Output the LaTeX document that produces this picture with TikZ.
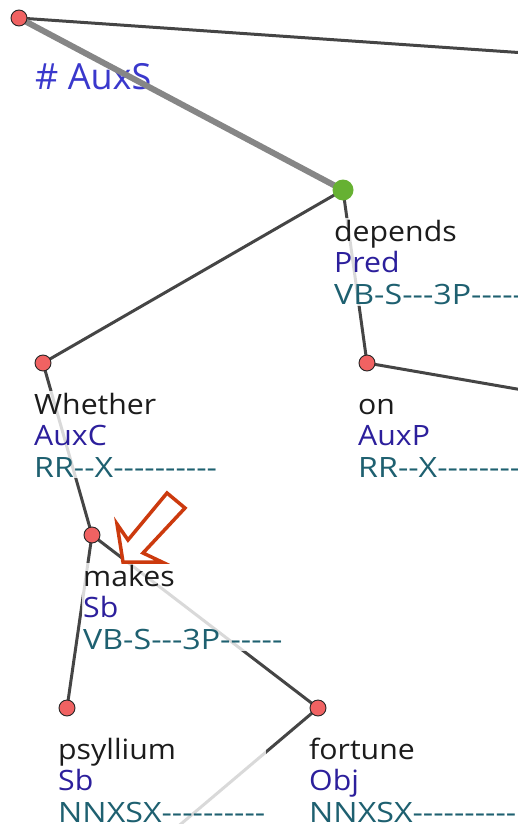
\documentclass[tikz,border=0pt]{standalone}
\usepackage{fontspec}
\setmainfont{Open Sans}[Ligatures=TeXOff, FakeStretch=1.08]
\newfontfamily\tagfont{Open Sans}[Ligatures=TeXOff, FakeStretch=1.15]
\newfontfamily\rootfont{Open Sans}
\usetikzlibrary{positioning}
\definecolor{dotred}{HTML}{F06262}
\definecolor{dotgreen}{HTML}{66B132}
\definecolor{edgegray}{HTML}{454545}
\definecolor{wordblack}{HTML}{1C1C1C}
\definecolor{funcblue}{HTML}{2C1F9C}
\definecolor{tagteal}{HTML}{1E6070}
\definecolor{rootblue}{HTML}{3A38CC}
\definecolor{markred}{HTML}{CC3A0E}

\begin{document}
\begin{tikzpicture}[
    x=1pt, y=-1pt,
    node distance=28pt and -10pt,
    dot/.style={circle, draw=black!85, fill=dotred, line width=0.9pt, minimum size=16pt, inner sep=0pt},
    headdot/.style={circle, fill=dotgreen, minimum size=21pt, inner sep=0pt},
    treeedge/.style={draw=edgegray, line width=3pt},
    rootedge/.style={draw=gray!95, line width=6pt},
    tokinfo/.style={anchor=north west, align=left, inner sep=1pt, fill=white, fill opacity=0.8, text opacity=1, font=\fontsize{28}{31.5}\selectfont}
]
\useasboundingbox (0,0) rectangle (517,824);

% tree nodes
\coordinate (root) at (19,18);
\coordinate (depends) at (343,190);
\coordinate (whether) at (43,363);
\coordinate (on) at (367,363);
\coordinate (makes) at (92,535);
\coordinate (psyllium) at (67,708);
\coordinate (fortune) at (318,708);
% children outside the view
\coordinate (rootnext) at (540,54);
\coordinate (onnext) at (540,393);
\coordinate (fortunenext) at (162,840);

\node[font=\rootfont\fontsize{36}{40}\selectfont, text=rootblue, anchor=base west, inner sep=0pt] (root-info) at (35,90) {\# AuxS};

% edges
\draw[treeedge] (root) -- (rootnext);
\draw[rootedge] (root) -- (depends);
\draw[treeedge] (depends) -- (whether);
\draw[treeedge] (depends) -- (on);
\draw[treeedge] (on) -- (onnext);
\draw[treeedge] (whether) -- (makes);
\draw[treeedge] (makes) -- (psyllium);
\draw[treeedge] (makes) -- (fortune);
\draw[treeedge] (fortune) -- (fortunenext);

% token texts
\node[tokinfo, below right=of depends] (depends-info) {\strut\textcolor{wordblack}{depends}\\\textcolor{funcblue}{Pred}\\\textcolor{tagteal}{\tagfont VB-S---3P------}};
\node[tokinfo, below right=of whether] (whether-info) {\strut\textcolor{wordblack}{Whether}\\\textcolor{funcblue}{AuxC}\\\textcolor{tagteal}{\tagfont RR--X----------}};
\node[tokinfo, below right=of on] (on-info) {\strut\textcolor{wordblack}{on}\\\textcolor{funcblue}{AuxP}\\\textcolor{tagteal}{\tagfont RR--X----------}};
\node[tokinfo, below right=of makes] (makes-info) {\strut\textcolor{wordblack}{makes}\\\textcolor{funcblue}{Sb}\\\textcolor{tagteal}{\tagfont VB-S---3P------}};
\node[tokinfo, below right=of psyllium] (psyllium-info) {\strut\textcolor{wordblack}{psyllium}\\\textcolor{funcblue}{Sb}\\\textcolor{tagteal}{\tagfont NNXSX----------}};
\node[tokinfo, below right=of fortune] (fortune-info) {\strut\textcolor{wordblack}{fortune}\\\textcolor{funcblue}{Obj}\\\textcolor{tagteal}{\tagfont NNXSX----------}};

% dots
\node[dot] (root-dot) at (root) {};
\node[headdot] (depends-dot) at (depends) {};
\node[dot] (whether-dot) at (whether) {};
\node[dot] (on-dot) at (on) {};
\node[dot] (makes-dot) at (makes) {};
\node[dot] (psyllium-dot) at (psyllium) {};
\node[dot] (fortune-dot) at (fortune) {};

% pointer
\draw[markred, line width=3.5pt, fill=white, line join=miter]
    (185,508) -- (167,493) -- (128,540) -- (117,524) -- (123,562) -- (162,562) -- (143,553) -- cycle;

\end{tikzpicture}
\end{document}
